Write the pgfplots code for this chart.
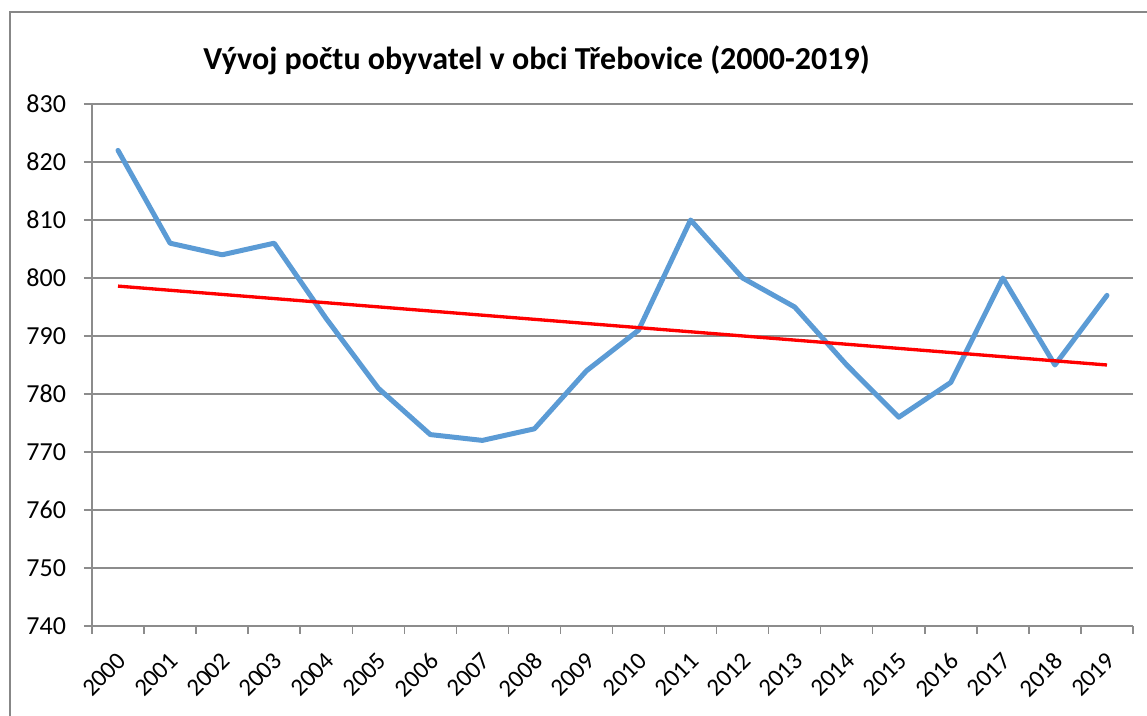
\documentclass[border=0pt]{standalone}
\usepackage{pgfplots}
\pgfplotsset{compat=1.18}
\usepackage{fontspec}
\setmainfont{Carlito}
\definecolor{lblue}{HTML}{5B9BD5}
\definecolor{gridc}{HTML}{8C8C8C}
\definecolor{framec}{HTML}{878787}
\begin{document}
\begin{tikzpicture}
\useasboundingbox (0,0) rectangle (860.25pt,-537pt);
\draw[color=framec, line width=2pt] (7.5pt,-9pt) rectangle (890pt,-570pt);
\node[font=\bfseries\fontsize{24}{28}\selectfont, anchor=center] at (402.4pt,-45pt) {Vývoj počtu obyvatel v obci Třebovice (2000-2019)};
\begin{axis}[
  at={(69pt,-78pt)}, anchor=north west,
  width=780.75pt, height=391.5pt, scale only axis,
  xmin=-0.5, xmax=19.5, ymin=740, ymax=830,
  ytick={740,750,...,830},
  xtick={0,...,19},
  xticklabels={2000,2001,2002,2003,2004,2005,2006,2007,2008,2009,2010,2011,2012,2013,2014,2015,2016,2017,2018,2019},
  minor xtick={-0.5,0.5,...,19.5},
  major x tick style={draw=none},
  minor x tick style={gridc, line width=1.1pt},
  y tick style={gridc, line width=1.1pt},
  ymajorgrids, xmajorgrids=false, xminorgrids=false,
  grid style={gridc, line width=1.1pt},
  axis x line*=bottom, axis y line*=left,
  axis line style={gridc, line width=1.1pt, -},
  tick align=outside,
  major tick length=6pt, minor tick length=6pt,
  /pgf/number format/assume math mode=true,
  tick label style={font=\fontsize{19.5}{22}\selectfont, text=black},
  yticklabel style={xshift=-10pt},
  xticklabel style={font=\fontsize{18.5}{21}\selectfont, yshift=-17pt, xshift=3pt, rotate=45, anchor=east, inner sep=0pt},
  clip=false,
]
\addplot[lblue, line width=3.75pt, line join=round, line cap=round] coordinates {
(0,822) (1,806) (2,804) (3,806) (4,793) (5,781) (6,773) (7,772) (8,774) (9,784)
(10,791) (11,810) (12,800) (13,795) (14,785) (15,776) (16,782) (17,800) (18,785) (19,797)
};
\addplot[red, line width=2.5pt] coordinates {(0,798.6) (19,785.0)};
\end{axis}
\end{tikzpicture}
\end{document}
